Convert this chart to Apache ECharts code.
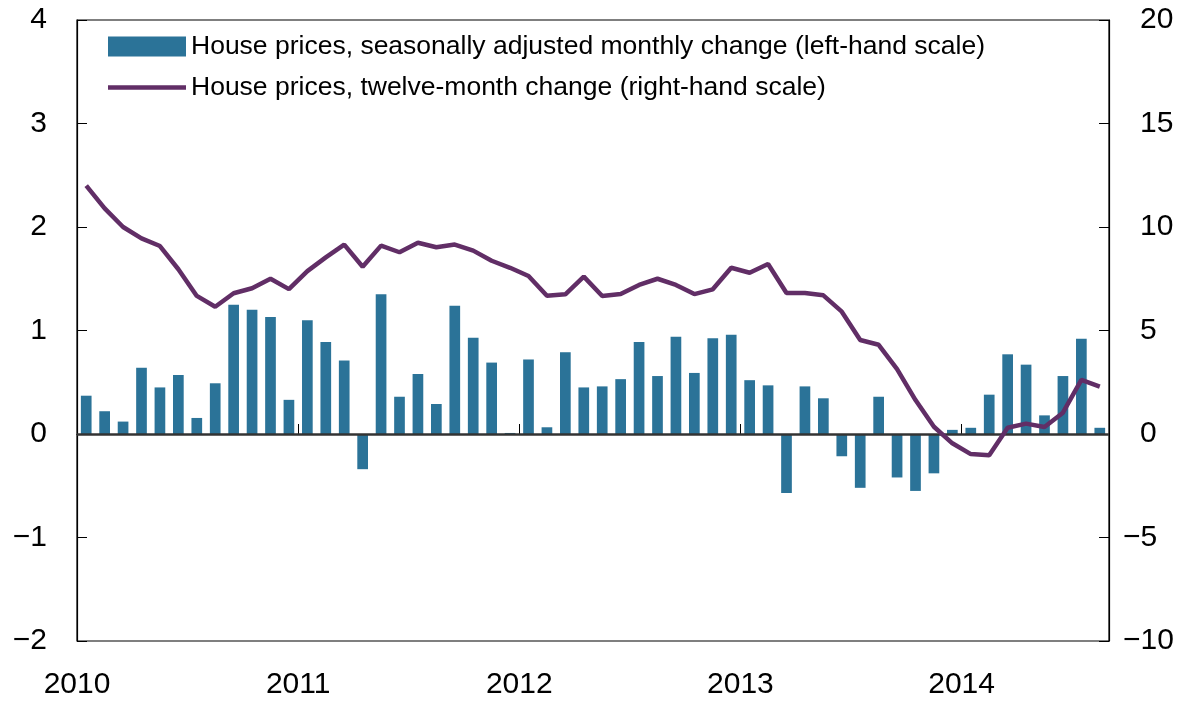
<!DOCTYPE html>
<html>
<head>
<meta charset="utf-8">
<script src="https://cdn.jsdelivr.net/npm/echarts@6/dist/echarts.min.js"></script>
<style>
html, body { margin: 0; padding: 0; background: #fff; }
#chart { width: 1201px; height: 701px; }
</style>
</head>
<body>
<div id="chart"></div>
<script type="text/javascript">
// months Jan 2010 - Aug 2014
var months = [
  '2010-01','2010-02','2010-03','2010-04','2010-05','2010-06','2010-07','2010-08','2010-09','2010-10','2010-11','2010-12',
  '2011-01','2011-02','2011-03','2011-04','2011-05','2011-06','2011-07','2011-08','2011-09','2011-10','2011-11','2011-12',
  '2012-01','2012-02','2012-03','2012-04','2012-05','2012-06','2012-07','2012-08','2012-09','2012-10','2012-11','2012-12',
  '2013-01','2013-02','2013-03','2013-04','2013-05','2013-06','2013-07','2013-08','2013-09','2013-10','2013-11','2013-12',
  '2014-01','2014-02','2014-03','2014-04','2014-05','2014-06','2014-07','2014-08'
];
var yearLabels = ['2010', '2011', '2012', '2013', '2014'];

// seasonally adjusted monthly change, left scale
var monthlyChange = [
  0.37, 0.22, 0.12, 0.64, 0.45, 0.57, 0.155, 0.49, 1.25, 1.20, 1.13, 0.33,
  1.10, 0.89, 0.71, -0.34, 1.35, 0.36, 0.58, 0.29, 1.24, 0.93, 0.69, 0.01,
  0.72, 0.065, 0.79, 0.45, 0.46, 0.53, 0.89, 0.56, 0.94, 0.59, 0.925, 0.96,
  0.52, 0.47, -0.57, 0.46, 0.345, -0.215, -0.52, 0.36, -0.42, -0.55, -0.38, 0.04,
  0.06, 0.38, 0.77, 0.67, 0.18, 0.56, 0.92, 0.06
];

// twelve-month change, right scale
var twelveMonth = [
  12.0, 10.9, 10.0, 9.45, 9.08, 7.96, 6.67, 6.15, 6.8, 7.04, 7.5, 7.0,
  7.87, 8.53, 9.15, 8.08, 9.10, 8.78, 9.24, 9.02, 9.15, 8.86, 8.37, 8.03,
  7.63, 6.68, 6.75, 7.6, 6.67, 6.76, 7.2, 7.5, 7.2, 6.76, 6.99, 8.03,
  7.79, 8.21, 6.81, 6.81, 6.7, 5.91, 4.54, 4.31, 3.13, 1.64, 0.35, -0.45,
  -0.97, -1.03, 0.3, 0.5, 0.34, 1.03, 2.61, 2.29
];

var font = "'Liberation Sans', Arial, Helvetica, sans-serif";
var minus = function (v) { return String(v).replace('-', '\u2212'); };

echarts.init(document.getElementById('chart')).setOption({
  animation: false,
  textStyle: { fontFamily: font },
  grid: {
    left: 77, right: 92, top: 20, bottom: 60,
    show: true, borderColor: '#000', borderWidth: 1.2, backgroundColor: 'transparent'
  },
  legend: {
    left: 108, top: 33, padding: 0,
    orient: 'vertical',
    itemWidth: 78, itemHeight: 20, itemGap: 14,
    symbolKeepAspect: true,
    textStyle: { fontSize: 26.5, color: '#000', fontFamily: font },
    data: [
      { name: 'House prices, seasonally adjusted monthly change (left-hand scale)', icon: 'rect' },
      { name: 'House prices, twelve-month change (right-hand scale)', icon: 'path://M0,0H78V4.5H0Z' }
    ]
  },
  xAxis: [
    {
      type: 'category', data: months, show: false, boundaryGap: true
    },
    {
      type: 'value', min: 0, max: 56, interval: 12, position: 'bottom',
      axisLine: { show: true, lineStyle: { color: '#000', width: 1.2 } },
      axisTick: { show: true, inside: true, length: 10, lineStyle: { color: '#000' } },
      splitLine: { show: false },
      axisLabel: {
        fontSize: 30, color: '#000', margin: 29,
        formatter: function (v) { return v % 12 === 0 ? yearLabels[v / 12] : ''; }
      }
    }
  ],
  yAxis: [
    {
      type: 'value', min: -2, max: 4, interval: 1, position: 'left',
      axisLine: { show: true, lineStyle: { color: '#000', width: 1.2 } },
      axisTick: { show: true, inside: true, length: 10, lineStyle: { color: '#000' } },
      splitLine: { show: false },
      axisLabel: { fontSize: 30, color: '#000', margin: 30, formatter: minus }
    },
    {
      type: 'value', min: -10, max: 20, interval: 5, position: 'right',
      axisLine: { show: true, lineStyle: { color: '#000', width: 1.2 } },
      axisTick: { show: true, inside: true, length: 10, lineStyle: { color: '#000' } },
      splitLine: { show: false },
      axisLabel: {
        fontSize: 30, color: '#000', margin: 31, align: 'left',
        formatter: function (v) { return v >= 0 ? String(v) : ''; }
      }
    },
    {
      // negative labels on right, minus sign hanging left of digits
      type: 'value', min: -10, max: 20, interval: 5, position: 'right',
      axisLine: { show: false }, axisTick: { show: false }, splitLine: { show: false },
      axisLabel: {
        fontSize: 30, color: '#000', margin: 14, align: 'left',
        formatter: function (v) { return v < 0 ? minus(v) : ''; }
      }
    }
  ],
  series: [
    {
      name: 'House prices, seasonally adjusted monthly change (left-hand scale)',
      type: 'bar',
      xAxisIndex: 0, yAxisIndex: 0,
      data: monthlyChange,
      barWidth: '58%',
      itemStyle: { color: '#2b7398' },
      markLine: {
        silent: true, symbol: 'none', label: { show: false },
        lineStyle: { color: '#333', width: 2.5, type: 'solid' },
        data: [{ yAxis: 0 }]
      }
    },
    {
      name: 'House prices, twelve-month change (right-hand scale)',
      type: 'line',
      xAxisIndex: 0, yAxisIndex: 1,
      data: twelveMonth,
      symbol: 'none',
      z: 5,
      lineStyle: { color: '#612e66', width: 4.5 },
      itemStyle: { color: '#612e66' }
    }
  ]
});
</script>
</body>
</html>
